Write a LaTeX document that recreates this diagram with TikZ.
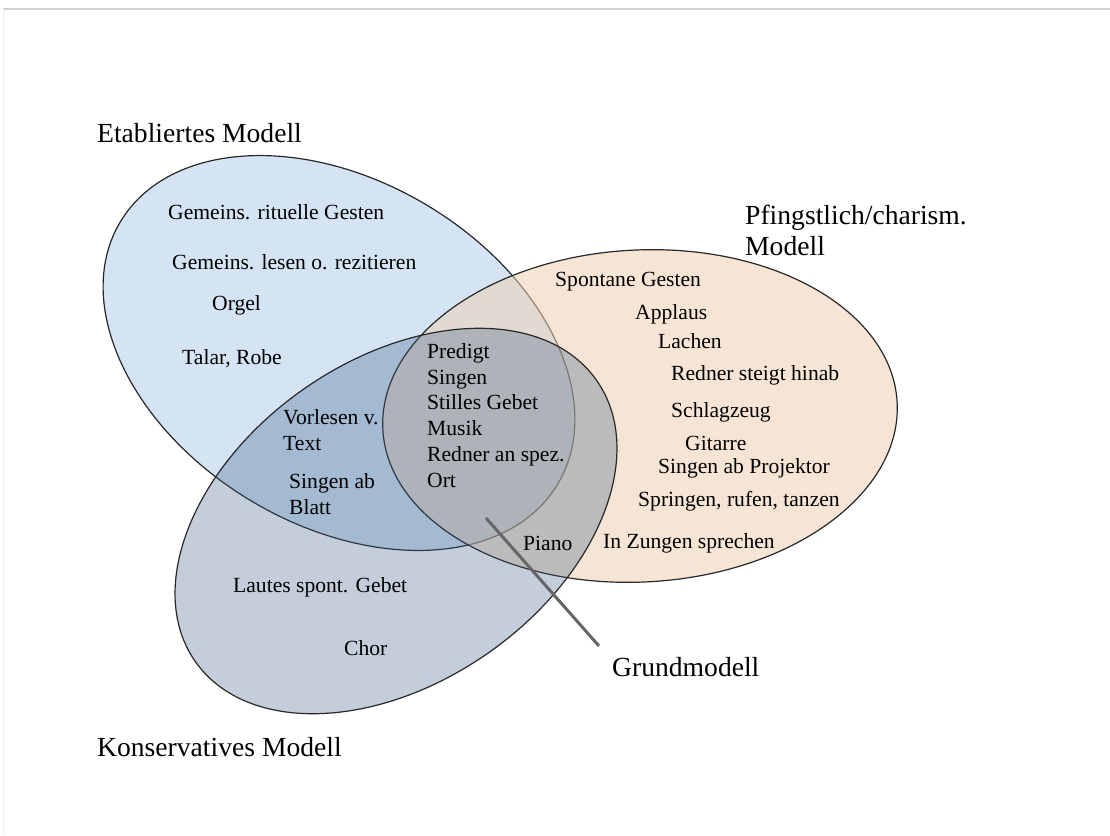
\documentclass[tikz,border=0pt]{standalone}
\usepackage{fontspec}
\setmainfont{Liberation Serif}
\usetikzlibrary{shapes.geometric}
\definecolor{etabfill}{RGB}{212,228,244}
\definecolor{pfingfill}{RGB}{239,208,179}
\definecolor{konsfill}{RGB}{55,92,132}
\definecolor{rimgray}{RGB}{40,40,40}

\begin{document}
\begin{tikzpicture}[x=1pt,y=-1pt,
  venn/.style={draw=rimgray,line width=1.2pt,ellipse,inner sep=0pt},
  lbl/.style={anchor=west,inner sep=0pt,align=left,font=\fontsize{21.6}{25.8}\selectfont},
  big/.style={anchor=west,inner sep=0pt,align=left,font=\fontsize{27.6}{31}\selectfont}]
\useasboundingbox (0,0) rectangle (1110,835);
\draw[black!18,line width=1.5pt] (3,9) -- (1110,9);
\draw[black!6] (3,9) -- (3,835);
% the three models
\node[venn,fill=etabfill,minimum width=510pt,minimum height=344pt,rotate=-31] (etab) at (339,353) {};
\node[venn,fill=pfingfill,fill opacity=0.55,minimum width=515pt,minimum height=332pt,rotate=3] (pfing) at (640,416) {};
\node[venn,fill=konsfill,fill opacity=0.3,minimum width=490pt,minimum height=322pt,rotate=35] (kons) at (396,521) {};
% pointer to the core
\coordinate (gm-tip) at (486,518);
\coordinate (gm-end) at (599,646);
\draw[black!60,line width=3pt] (gm-tip) -- (gm-end);
% titles
\node[big] (etab-t) at (97,133) {Etabliertes Modell};
\node[big] (pfing-t) at (745,230) {Pfingstlich/charism.\\Modell};
\node[big] (kons-t) at (97,747) {Konservatives Modell};
\node[big] (grund-t) at (612,667) {Grundmodell};
% Etabliertes Modell
\node[lbl] (e1) at (168,212) {Gemeins. rituelle Gesten};
\node[lbl] (e2) at (172,262) {Gemeins. lesen o. rezitieren};
\node[lbl] (e3) at (212,305) {Orgel};
\node[lbl] (e4) at (182,359) {Talar, Robe};
\node[lbl] (ek1) at (283,430) {Vorlesen v.\\Text};
\node[lbl] (ek2) at (289,494) {Singen ab\\Blatt};
% core
\node[lbl] (core) at (427,415.5) {Predigt\\Singen\\Stilles Gebet\\Musik\\Redner an spez.\\Ort};
\node[lbl] (pk1) at (523,543) {Piano};
% Pfingstlich
\node[lbl] (p1) at (555,282) {Spontane Gesten};
\node[lbl] (p2) at (635,314) {Applaus};
\node[lbl] (p3) at (658,341) {Lachen};
\node[lbl] (p4) at (671,375) {Redner steigt hinab};
\node[lbl] (p5) at (671,412) {Schlagzeug};
\node[lbl] (p6) at (685,443) {Gitarre};
\node[lbl] (p7) at (658,468) {Singen ab Projektor};
\node[lbl] (p8) at (638,501) {Springen, rufen, tanzen};
\node[lbl] (p9) at (603,543) {In Zungen sprechen};
% Konservativ
\node[lbl] (k1) at (233,587) {Lautes spont. Gebet};
\node[lbl] (k2) at (344,648) {Chor};
\end{tikzpicture}
\end{document}
